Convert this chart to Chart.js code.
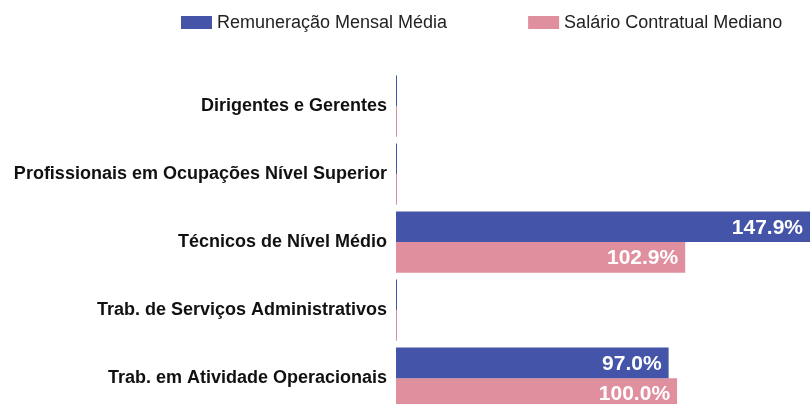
<!DOCTYPE html>
<html>
<head>
<meta charset="utf-8">
<script src="https://cdn.jsdelivr.net/npm/chart.js@4"></script>
<style>
    html, body { margin: 0; padding: 0; background: #fff; overflow: hidden; }
    canvas { display: block; }
</style>
</head>
<body>
<canvas id="chart" width="810" height="432"></canvas>
<script>
// Adatok
const categories = [
    'Dirigentes e Gerentes',
    'Profissionais em Ocupações Nível Superior',
    'Técnicos de Nível Médio',
    'Trab. de Serviços Administrativos',
    'Trab. em Atividade Operacionais'
];
const seriesNames = ['Remuneração Mensal Média', 'Salário Contratual Mediano'];
const remuneracao = [0, 0, 147.9, 0, 97.0];
const salario = [0, 0, 102.9, 0, 100.0];
const colors = ['#4454a8', '#e08f9e'];

const FONT = "'Liberation Sans', Arial, sans-serif";

// Saját legenda (két elem, nagy térközzel)
const legendPlugin = {
    id: 'customLegend',
    afterDraw(chart) {
        const ctx = chart.ctx;
        ctx.save();
        ctx.font = '18px ' + FONT;
        ctx.textBaseline = 'middle';
        ctx.textAlign = 'left';
        let x = 181;
        const y = 22.5;
        chart.data.datasets.forEach((ds, i) => {
            ctx.fillStyle = ds.backgroundColor;
            ctx.fillRect(x, y - 6.5, 31, 13);
            ctx.fillStyle = '#222';
            ctx.fillText(ds.label, x + 36, y + 1);
            x += 36 + ctx.measureText(ds.label).width + 81;
        });
        ctx.restore();
    }
};

// Értékcímkék a sávok végén
const valueLabels = {
    id: 'valueLabels',
    afterDatasetsDraw(chart) {
        const ctx = chart.ctx;
        const area = chart.chartArea;
        ctx.save();
        ctx.font = 'bold 21px ' + FONT;
        ctx.fillStyle = '#fff';
        ctx.textAlign = 'right';
        ctx.textBaseline = 'middle';
        chart.data.datasets.forEach((ds, di) => {
            const meta = chart.getDatasetMeta(di);
            meta.data.forEach((bar, i) => {
                const v = ds.data[i];
                if (!v) return;
                const xEnd = Math.min(bar.x, area.right);
                ctx.fillText(v.toFixed(1) + '%', xEnd - 7, bar.y + 1);
            });
        });
        ctx.restore();
    }
};

new Chart(document.getElementById('chart'), {
    type: 'bar',
    data: {
        labels: categories,
        datasets: [
            { label: seriesNames[0], data: remuneracao, backgroundColor: colors[0] },
            { label: seriesNames[1], data: salario, backgroundColor: colors[1] }
        ]
    },
    options: {
        indexAxis: 'y',
        responsive: false,
        animation: false,
        datasets: {
            bar: { categoryPercentage: 0.9, barPercentage: 1.0, minBarLength: 1 }
        },
        layout: { padding: { top: 72, left: 0, right: 0, bottom: 0 } },
        plugins: {
            legend: { display: false },
            tooltip: { enabled: false }
        },
        scales: {
            x: {
                display: false,
                min: 0,
                max: 147.3
            },
            y: {
                grid: { display: false, drawTicks: false },
                border: { display: false },
                ticks: {
                    color: '#111',
                    padding: 9,
                    font: { family: FONT, size: 18, weight: 'bold' }
                },
                afterFit(scale) { scale.width = 396; }
            }
        }
    },
    plugins: [legendPlugin, valueLabels]
});
</script>
</body>
</html>
